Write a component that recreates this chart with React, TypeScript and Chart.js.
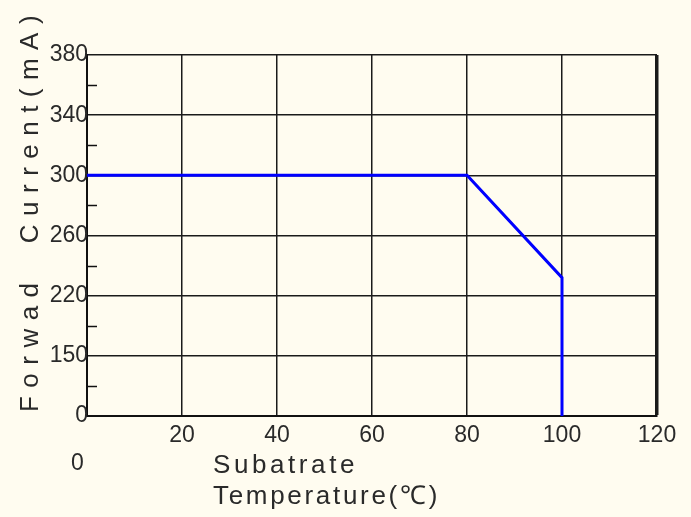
import React, { useEffect, useRef } from "react";
import { Chart, registerables } from "chart.js";

Chart.register(...registerables);

const xTickValues = [0, 20, 40, 60, 80, 100, 120];
const yTickValues = [0, 150, 220, 260, 300, 340, 380];
const yTickLabels = ["0", "150", "220", "260", "300", "340", "380"];
const temperature = [0, 80, 100, 100];
const current = [300, 300, 232, 0];

const xTitleLines = ["Subatrate", "Temperature(℃)"];
const yTitle = "Forwad  Current(mA)";

function toPos(v: number): number {
  for (let i = 0; i < yTickValues.length - 1; i++) {
    const a = yTickValues[i];
    const b = yTickValues[i + 1];
    if (v >= a && v <= b) return i + (v - a) / (b - a);
  }
  return yTickValues.length - 1;
}

const FONT = "'Liberation Sans', Arial, sans-serif";
const TEXT = "#2a2a2a";

function spacedText(ctx: CanvasRenderingContext2D, text: string, x: number, y: number, targetLen: number) {
  (ctx as any).letterSpacing = "0px";
  const w = ctx.measureText(text).width;
  const sp = Math.max(0, (targetLen - w) / text.length);
  (ctx as any).letterSpacing = sp + "px";
  ctx.fillText(text, x, y);
  (ctx as any).letterSpacing = "0px";
}

const decor = {
  id: "decor",
  beforeDraw(chart: any) {
    const { ctx } = chart;
    ctx.save();
    ctx.fillStyle = "#fffcf0";
    ctx.fillRect(0, 0, chart.width, chart.height);
    ctx.restore();
  },
  afterDraw(chart: any) {
    const { ctx, chartArea } = chart;
    const y = chart.scales.y;
    ctx.save();
    ctx.strokeStyle = "#111";
    ctx.lineWidth = 1.5;
    for (let i = 0; i < yTickValues.length - 1; i++) {
      const py = Math.round(y.getPixelForValue(i + 0.5)) + 0.5;
      ctx.beginPath();
      ctx.moveTo(chartArea.left, py);
      ctx.lineTo(chartArea.left + 10, py);
      ctx.stroke();
    }
    ctx.fillStyle = TEXT;
    ctx.font = `26px ${FONT}`;
    ctx.textBaseline = "middle";
    ctx.textAlign = "left";
    spacedText(ctx, xTitleLines[0], 213, 466, 145);
    spacedText(ctx, xTitleLines[1], 213, 497, 227);
    ctx.translate(31, 412);
    ctx.rotate(-Math.PI / 2);
    ctx.font = `26px ${FONT}`;
    spacedText(ctx, yTitle, 0, 0, 405);
    ctx.restore();
  },
};

export default function App() {
  const ref = useRef<HTMLCanvasElement | null>(null);
  useEffect(() => {
    if (!ref.current) return;
    const chart = new Chart(ref.current, {
      type: "line",
      data: {
        datasets: [
          {
            data: temperature.map((t, i) => ({ x: t, y: toPos(current[i]) })),
            borderColor: "#0000ff",
            borderWidth: 3,
            pointRadius: 0,
            tension: 0,
          },
        ],
      },
      options: {
        animation: false,
        responsive: false,
        layout: { padding: { top: 55, right: 34, left: 0, bottom: 0 } },
        plugins: { legend: { display: false }, tooltip: { enabled: false } },
        scales: {
          x: {
            type: "linear",
            min: xTickValues[0],
            max: xTickValues[xTickValues.length - 1],
            afterBuildTicks: (s: any) => {
              s.ticks = xTickValues.map((v) => ({ value: v }));
            },
            afterFit: (s: any) => {
              s.height = 101;
            },
            ticks: {
              callback: (v: any) => (v === 0 ? ["", "0   "] : String(v)),
              font: { family: FONT, size: 23 },
              color: TEXT,
              padding: 6,
              maxRotation: 0,
              autoSkip: false,
            },
            grid: {
              color: "#1a1a1a",
              lineWidth: (c: any) => (c.tick && c.tick.value === 120 ? 3.5 : 1.5),
              drawTicks: false,
            },
            border: { display: true, color: "#111", width: 2 },
          },
          y: {
            type: "linear",
            min: 0,
            max: yTickValues.length - 1,
            afterBuildTicks: (s: any) => {
              s.ticks = yTickLabels.map((_, i) => ({ value: i }));
            },
            afterFit: (s: any) => {
              s.width = 87;
            },
            ticks: {
              callback: (v: any) => yTickLabels[v],
              font: { family: FONT, size: 23 },
              color: TEXT,
              padding: -1,
              autoSkip: false,
            },
            grid: { color: "#1a1a1a", lineWidth: 1.5, drawTicks: false },
            border: { display: true, color: "#111", width: 2 },
          },
        },
      },
      plugins: [decor],
    });
    return () => chart.destroy();
  }, []);
  return (
    <div style={{ position: "fixed", left: 0, top: 0, width: 691, height: 517 }}>
      <canvas ref={ref} width={691} height={517} />
    </div>
  );
}
